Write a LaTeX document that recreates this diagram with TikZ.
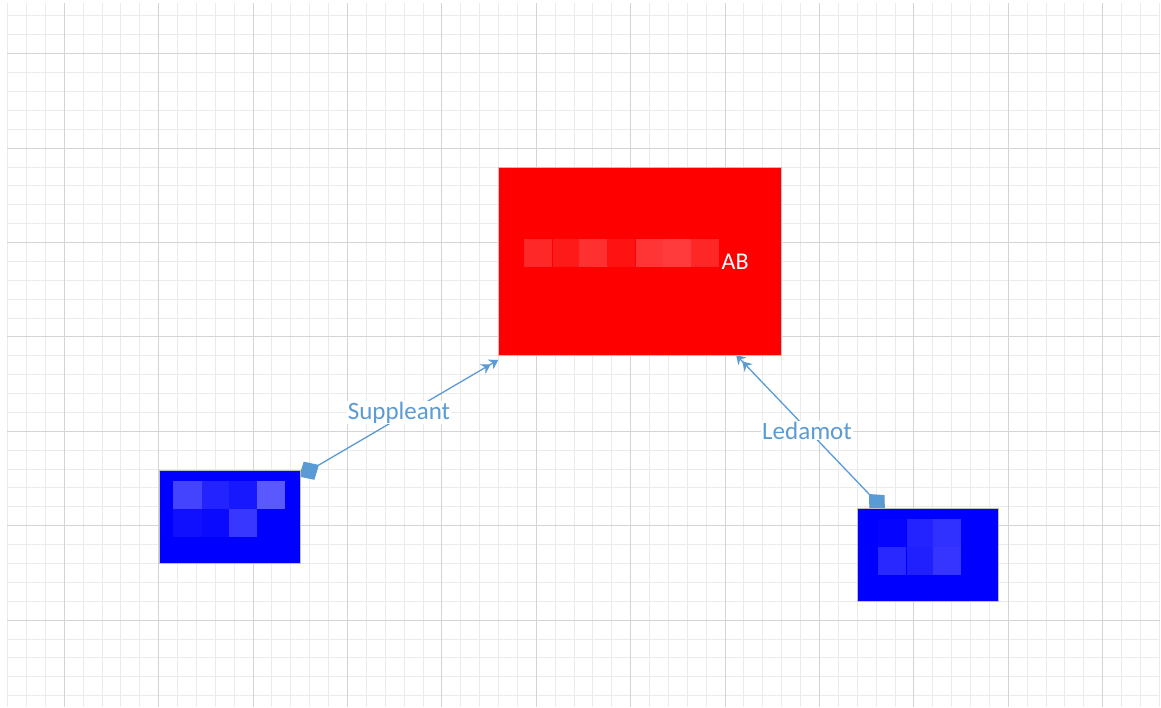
\documentclass[tikz,border=0pt]{standalone}
\usepackage{fontspec}
\setmainfont{Carlito}
\usetikzlibrary{arrows.meta,backgrounds}
\definecolor{conn}{HTML}{5B9BD5}
\definecolor{gridminor}{HTML}{EBEBEB}
\definecolor{gridmajor}{HTML}{D4D4D4}
\definecolor{boxedge}{HTML}{BFBFBF}
\begin{document}
\begin{tikzpicture}[x=1pt,y=-1pt,
  entity/.style={draw=boxedge,line width=0.9pt,inner sep=0pt,anchor=north west},
  link/.style={conn,line width=1.3pt,shorten <=-11pt,
    {Diamond[length=23pt,width=21pt]}-{Stealth[length=9pt,width=11pt]Stealth[length=9pt,width=11pt]}},
  lab/.style={text=conn,font=\fontsize{25}{30}\selectfont,fill=white,inner sep=1pt,anchor=base}]
\useasboundingbox (0,0) rectangle (1161,707);
% boxes
\node[entity,fill={rgb,255:red,255;green,0;blue,0},minimum width=282.7pt,minimum height=187.7pt] (red) at (498.3,167.3) {};
\node[entity,fill={rgb,255:red,0;green,0;blue,255},minimum width=140.7pt,minimum height=93pt] (blueL) at (159,470) {};
\node[entity,fill={rgb,255:red,0;green,0;blue,255},minimum width=140.4pt,minimum height=93.3pt] (blueR) at (857.3,507.7) {};
% pixelated blocks
\foreach \xa/\g in {524/40,552.7/26,579.3/48,607.3/18,636/53,662.7/59,690.7/38}
  \fill[fill={rgb,255:red,255;green,\g;blue,\g}] (\xa,239) rectangle ++(27.8,28.3);
\foreach \xa/\ya/\v in {173.3/481/68,201.7/481/35,229/481/24,256.7/481/89,173.3/509.3/16,201.7/509.3/10,229/509.3/55}
  \fill[fill={rgb,255:red,\v;green,\v;blue,255}] (\xa,\ya) rectangle ++(28.2,27.5);
\foreach \xa/\ya/\v in {878.3/519/5,906.7/519/35,933/519/48,878.3/547.3/40,906.7/547.3/32,933/547.3/53}
  \fill[fill={rgb,255:red,\v;green,\v;blue,255}] (\xa,\ya) rectangle ++(27.5,27.5);
\node[text=white,font=\fontsize{24}{28}\selectfont,inner sep=0pt,anchor=base west] (ab) at (721.5,269) {AB};
\begin{pgfonlayer}{background}
  \fill[white] (0,0) rectangle (1161,707);
  \begin{scope}
    \clip (7,3) rectangle (1160,707);
    \foreach \k in {0,...,61}
      \draw[gridminor,line width=1pt] ({7.66+18.88*\k},3) -- ++(0,704);
    \foreach \k in {1,...,37}
      \draw[gridminor,line width=1pt] (7,{-2.9+18.88*\k}) -- ++(1153,0);
    \foreach \k in {0,...,11}
      \draw[gridmajor,line width=1pt] ({64.3+94.4*\k},3) -- ++(0,704);
    \foreach \k in {0,...,6}
      \draw[gridmajor,line width=1pt] (7,{53.7+94.4*\k}) -- ++(1153,0);
  \end{scope}
  \coordinate (sL) at ([xshift=8pt,yshift=-1pt]blueL.north east);
  \coordinate (eR) at ([xshift=96pt,yshift=1pt]red.south);
  \coordinate (sR) at ([xshift=20pt,yshift=5pt]blueR.north west);
  \draw[link] (sL) -- ([yshift=-4pt]red.south west);
  \draw[link] (sR) -- (eR);
  \node[lab] (labS) at (399,419.3) {Suppleant};
  \node[lab] (labL) at (807,439) {Ledamot};
\end{pgfonlayer}
\end{tikzpicture}
\end{document}
